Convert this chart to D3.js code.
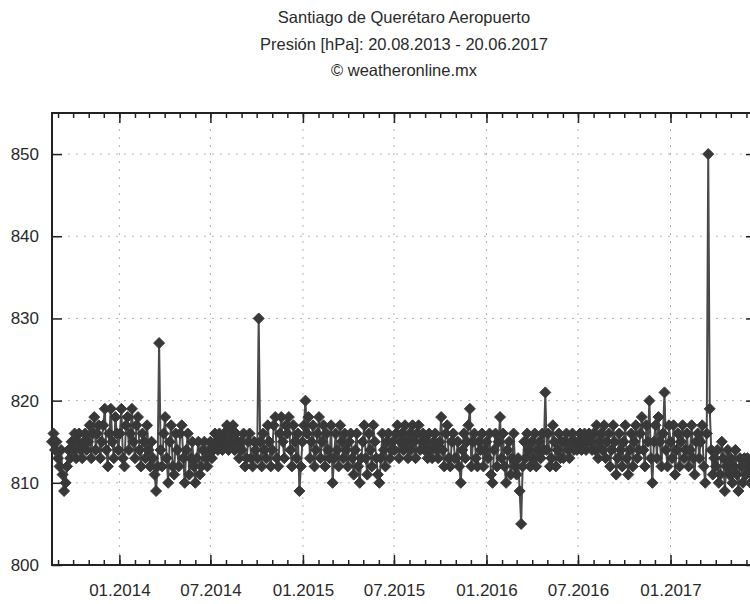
<!DOCTYPE html>
<html>
<head>
<meta charset="utf-8">
<script src="https://cdn.jsdelivr.net/npm/d3@7"></script>
<style>
  body { margin: 0; background: #fff; }
  svg { display: block; font-family: "Liberation Sans", Arial, sans-serif; }
</style>
</head>
<body>
<div id="chart"></div>
<script>
// Title lines
var titleLines = [
  "Santiago de Querétaro Aeropuerto",
  "Presión [hPa]: 20.08.2013 - 20.06.2017",
  "© weatheronline.mx"
];

// Series: one reading every 3 days starting 20.08.2013 (values in hPa)
var startDate = "2013-08-20";
var endDate = "2017-06-20";
var stepDays = 3;

var pressure2013 = [
  815, 816, 814, 815,
  813, 812, 814, 811, 809, 810, 812, 814, 813, 815,
  814, 816, 813, 815, 816, 814, 813, 815, 816, 814,
  815, 817, 813, 816, 818, 814, 816, 817, 813, 815,
  817, 819, 814, 812, 816, 819, 815, 813, 818, 816, 814
];
var pressure2014 = [
  816, 819, 813, 812, 817, 818, 814, 816, 819, 815,
  813, 817, 818, 814, 812, 816, 815, 813, 817,
  814, 812, 815, 813, 811, 809, 812, 827, 814, 812,
  816, 818, 813, 810, 815, 817, 812, 811, 816, 814,
  812, 816, 817, 813, 810, 814, 816, 811, 813, 815, 812,
  810, 813, 815, 811, 812, 814, 815, 813, 812, 814,
  815, 813, 814, 816, 815, 814, 816, 815, 814, 816,
  815, 817, 814, 816, 815, 817, 814, 816, 815, 813, 815,
  814, 816, 812, 813, 815, 816, 813, 812, 815, 814,
  813, 830, 815, 812, 816, 814, 813, 817, 815, 812,
  814, 817, 818, 813, 812, 816, 818, 815, 813, 817,
  816, 818, 814, 812, 817, 815, 813, 816, 809, 812, 815
];
var pressure2015 = [
  817, 820, 816, 818, 813, 815, 817, 812, 814, 816,
  818, 813, 815, 817, 812, 816, 814, 813, 817,
  810, 813, 816, 814, 812, 817, 815, 813, 816, 814,
  812, 815, 816, 813, 811, 814, 816, 812, 810, 813,
  815, 817, 813, 811, 816, 814, 812, 817, 815, 813, 811,
  810, 813, 816, 814, 812, 815, 816, 813, 814, 815,
  814, 816, 817, 813, 815, 816, 814, 817, 815, 813,
  816, 814, 817, 815, 813, 816, 817, 814, 815, 816,
  814, 815, 813, 816, 814, 813, 815, 816, 814, 813,
  815, 818, 814, 812, 816, 817, 813, 812, 815, 816, 813,
  813, 815, 812, 810, 814, 816, 813, 815, 817, 819,
  812, 815, 816, 813, 812, 815, 814, 816, 812, 814
];
var pressure2016 = [
  815, 813, 816, 811, 810, 814, 816, 812, 815, 818, 813,
  816, 812, 810, 814, 815, 811, 813, 816, 812,
  811, 813, 809, 805, 812, 815, 813, 816, 814, 812,
  815, 813, 816, 812, 814, 815, 813, 816, 814, 821,
  814, 816, 812, 813, 817, 815, 812, 814, 816, 813, 815,
  813, 815, 816, 814, 813, 815, 816, 814, 815, 814,
  815, 816, 814, 815, 816, 814, 815, 816, 815, 814,
  816, 814, 817, 813, 815, 816, 814, 817, 813, 815,
  816, 812, 814, 817, 815, 811, 813, 816, 814, 812,
  815, 817, 813, 811, 814, 816, 812, 815, 817, 813, 814,
  816, 818, 814, 812, 817, 815, 820, 813, 810, 815,
  817, 813, 818, 815, 812, 816, 821, 814, 812, 817
];
var pressure2017 = [
  815, 813, 817, 811, 814, 816, 812, 815, 817, 813, 814,
  816, 812, 814, 817, 813, 811, 815, 816, 813,
  815, 817, 812, 810, 816, 850, 819, 814, 811, 813,
  812, 814, 810, 811, 815, 813, 809, 812, 814, 811,
  813, 810, 812, 814, 811, 809, 813, 812, 810, 813,
  811, 813, 812, 810, 812, 811, 813
];

// Axis ticks
var yTicks = [800, 810, 820, 830, 840, 850];
var xLabelDates = ["2014-01-01", "2014-07-01", "2015-01-01", "2015-07-01",
                   "2016-01-01", "2016-07-01", "2017-01-01"];

var svgWidth = 750;
var svgHeight = 604;
var margin = { top: 113, right: -6, bottom: 39, left: 52 };
var plotW = svgWidth - margin.left - margin.right;
var plotH = svgHeight - margin.top - margin.bottom;

var parse = d3.timeParse("%Y-%m-%d");
var t0 = parse(startDate);
var t1 = parse(endDate);

var values = pressure2013.concat(pressure2014, pressure2015, pressure2016, pressure2017);
var data = values.map(function(v, i) {
  return { date: d3.timeDay.offset(t0, i * stepDays), value: v };
});

var svg = d3.select("#chart").append("svg")
  .attr("width", svgWidth)
  .attr("height", svgHeight);

// titles
svg.selectAll("text.title")
  .data(titleLines)
  .enter().append("text")
  .attr("class", "title")
  .attr("x", margin.left + plotW / 2)
  .attr("y", function(d, i) { return 23 + i * 26.5; })
  .attr("text-anchor", "middle")
  .attr("font-size", 16.5)
  .attr("fill", "#2a2a2a")
  .text(function(d) { return d; });

var g = svg.append("g")
  .attr("transform", `translate(${margin.left}, ${margin.top})`);

var x = d3.scaleTime().domain([t0, t1]).range([0, plotW]);
var y = d3.scaleLinear().domain([800, 855]).range([plotH, 0]);

var majorDates = xLabelDates.map(parse);

// dotted grid
g.append("g").selectAll("line")
  .data(yTicks.filter(function(d) { return d > 800; }))
  .enter().append("line")
  .attr("x1", 0).attr("x2", plotW)
  .attr("y1", function(d) { return y(d); })
  .attr("y2", function(d) { return y(d); })
  .attr("stroke", "#b5b5b5")
  .attr("stroke-width", 1)
  .attr("stroke-dasharray", "2,6");

g.append("g").selectAll("line")
  .data(majorDates)
  .enter().append("line")
  .attr("x1", function(d) { return x(d); })
  .attr("x2", function(d) { return x(d); })
  .attr("y1", 0).attr("y2", plotH)
  .attr("stroke", "#b5b5b5")
  .attr("stroke-width", 1)
  .attr("stroke-dasharray", "2,6");

// axes (inward ticks)
var months = d3.timeMonth.range(d3.timeMonth.ceil(t0), t1);

function styleAxis(sel) {
  sel.select(".domain").remove();
  sel.selectAll(".tick line").attr("stroke", "#222").attr("stroke-width", 1.5);
  sel.selectAll("text")
    .attr("fill", "#2a2a2a")
    .attr("font-size", 17)
    .attr("font-family", "Liberation Sans, Arial, sans-serif");
}

g.append("g")
  .attr("transform", `translate(0, ${plotH})`)
  .call(d3.axisBottom(x).tickValues(months).tickSize(-5).tickFormat(""))
  .call(styleAxis);

g.append("g")
  .attr("transform", `translate(0, ${plotH})`)
  .call(d3.axisBottom(x).tickValues(majorDates).tickSize(-10).tickPadding(19)
    .tickFormat(d3.timeFormat("%m.%Y")))
  .call(styleAxis);

g.append("g")
  .call(d3.axisTop(x).tickValues(months).tickSize(-5).tickFormat(""))
  .call(styleAxis);

g.append("g")
  .call(d3.axisTop(x).tickValues(majorDates).tickSize(-10).tickFormat(""))
  .call(styleAxis);

g.append("g")
  .call(d3.axisLeft(y).tickValues(yTicks).tickSize(-10).tickPadding(13))
  .call(styleAxis);

g.append("g")
  .attr("transform", `translate(${plotW}, 0)`)
  .call(d3.axisRight(y).tickValues(yTicks).tickSize(-10).tickFormat(""))
  .call(styleAxis);

// frame
g.append("rect")
  .attr("width", plotW)
  .attr("height", plotH)
  .attr("fill", "none")
  .attr("stroke", "#222")
  .attr("stroke-width", 2);

// series line
var line = d3.line()
  .x(function(d) { return x(d.date); })
  .y(function(d) { return y(d.value); });

g.append("path")
  .datum(data)
  .attr("fill", "none")
  .attr("stroke", "#4a4a4a")
  .attr("stroke-width", 2)
  .attr("d", line);

// diamond markers
g.append("g").selectAll("path")
  .data(data)
  .enter().append("path")
  .attr("transform", function(d) { return `translate(${x(d.date)}, ${y(d.value)})`; })
  .attr("d", "M0,-5.5L5.5,0L0,5.5L-5.5,0Z")
  .attr("fill", "#383838")
  .attr("stroke", "#383838")
  .attr("stroke-width", 1);
</script>
</body>
</html>
